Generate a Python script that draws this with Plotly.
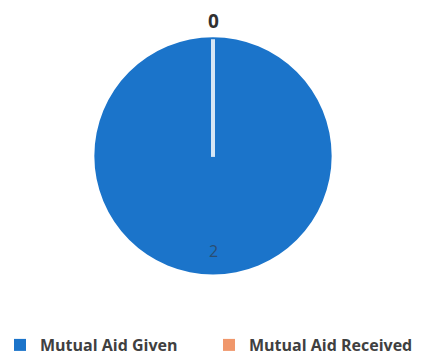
import plotly.graph_objects as go

labels = ["Mutual Aid Given", "Mutual Aid Received"]
values = [2, 0]
colors = ["#1B74CA", "#F0976B"]

W, H = 427, 362
fig = go.Figure()
fig.add_trace(go.Pie(
    labels=["<b>%s</b>" % l for l in labels], values=values, sort=False,
    direction="clockwise", rotation=0,
    marker=dict(colors=colors, line=dict(color="white", width=0)),
    textinfo="none", hoverinfo="label+value",
    domain=dict(x=[92 / W, 334 / W], y=[(H - 280) / H, (H - 38) / H]),
    showlegend=True,
))
cx, cy = 213 / W, (H - 160) / H
fig.add_shape(type="line", xref="paper", yref="paper", x0=cx, x1=cx, y0=cy, y1=(H - 40) / H,
              line=dict(color="#D6E6F5", width=4))
fig.add_annotation(x=cx, y=(H - 256) / H, xref="paper", yref="paper", text=str(values[0]),
                   yanchor="middle", showarrow=False,
                   font=dict(family="Open Sans", size=16, color="#2A4E72"))
fig.add_annotation(x=cx, y=(H - 21) / H, xref="paper", yref="paper", text="<b>%d</b>" % values[1],
                   yanchor="middle", showarrow=False,
                   font=dict(family="Open Sans", size=19, color="#303030"))

fig.update_layout(
    width=W, height=H, margin=dict(l=0, r=0, t=0, b=0),
    paper_bgcolor="white", plot_bgcolor="white",
    legend=dict(orientation="h", x=0, xanchor="left", y=10 / H, yanchor="middle",
                font=dict(family="Open Sans", size=16, color="#404040", weight=800),
                itemwidth=30, entrywidth=164, entrywidthmode="pixels"),
)
fig.write_html("out.html")
